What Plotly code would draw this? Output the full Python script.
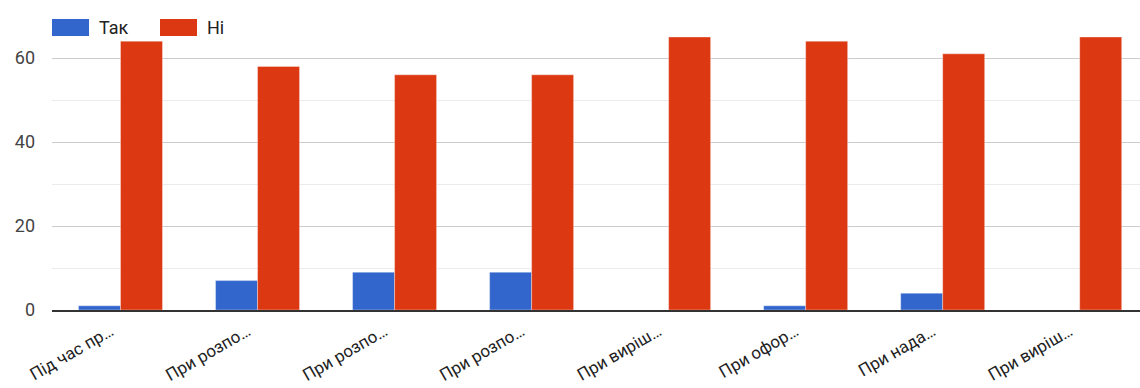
import plotly.graph_objects as go

# Category tick labels (shortened as displayed on the axis)
categories = ["Під час пр…", "При розпо…", "При розпо…", "При розпо…",
              "При виріш…", "При офор…", "При нада…", "При виріш…"]
series_names = ["Так", "Ні"]
yes_values = [1, 7, 9, 9, 0, 1, 4, 0]
no_values = [64, 58, 56, 56, 65, 64, 61, 65]
y_ticks = [0, 20, 40, 60]

BLUE = "#3366cc"
RED = "#dc3912"
FONT = "Roboto, Arial, sans-serif"

x_idx = list(range(len(categories)))

fig = go.Figure()
fig.add_trace(go.Bar(x=x_idx, y=yes_values, name=series_names[0],
                     marker=dict(color=BLUE, line=dict(width=1, color="rgba(255,255,255,0.35)"))))
fig.add_trace(go.Bar(x=x_idx, y=no_values, name=series_names[1],
                     marker=dict(color=RED, line=dict(width=1, color="rgba(255,255,255,0.35)"))))

# Legend drawn as swatches + labels across the top of the plot
legend_items = [(series_names[0], BLUE, 52), (series_names[1], RED, 160)]
for name, color, px in legend_items:
    fig.add_shape(type="rect", xref="paper", yref="paper",
                  x0=(px - 52) / 1088, x1=(px - 52 + 37) / 1088,
                  y0=(310 - 36) / 294, y1=(310 - 19) / 294,
                  fillcolor=color, line=dict(width=0), layer="above")
    fig.add_annotation(xref="paper", yref="paper",
                       x=(px - 52 + 45) / 1088, y=(310 - 27.5) / 294,
                       xanchor="left", yanchor="middle", text=name,
                       showarrow=False, font=dict(family=FONT, size=18, color="#222222"))

fig.update_layout(
    width=1140, height=388,
    margin=dict(l=52, r=0, t=16, b=78),
    paper_bgcolor="white", plot_bgcolor="white",
    barmode="group", bargap=0.387, bargroupgap=0.0,
    showlegend=False,
    font=dict(family=FONT, size=17, color="#444444"),
)
fig.update_xaxes(
    tickmode="array", tickvals=x_idx, ticktext=categories,
    tickangle=-30, range=[-0.5, 7.44], automargin=False,
    showline=True, linecolor="#333333", linewidth=2,
    showgrid=False, ticks="", tickfont=dict(size=17, color="#222222"),
    ticklabelshift=-10, ticklabelstandoff=3,
)
fig.update_yaxes(
    range=[0, 70], tickmode="array", tickvals=y_ticks, automargin=False,
    showgrid=True, gridcolor="#cccccc", gridwidth=1,
    minor=dict(dtick=10, tick0=0, showgrid=True, gridcolor="#ebebeb", gridwidth=1),
    zeroline=False, ticks="", ticklabelstandoff=16,
    tickfont=dict(size=18, color="#444444"),
)

fig.write_html("out.html")
